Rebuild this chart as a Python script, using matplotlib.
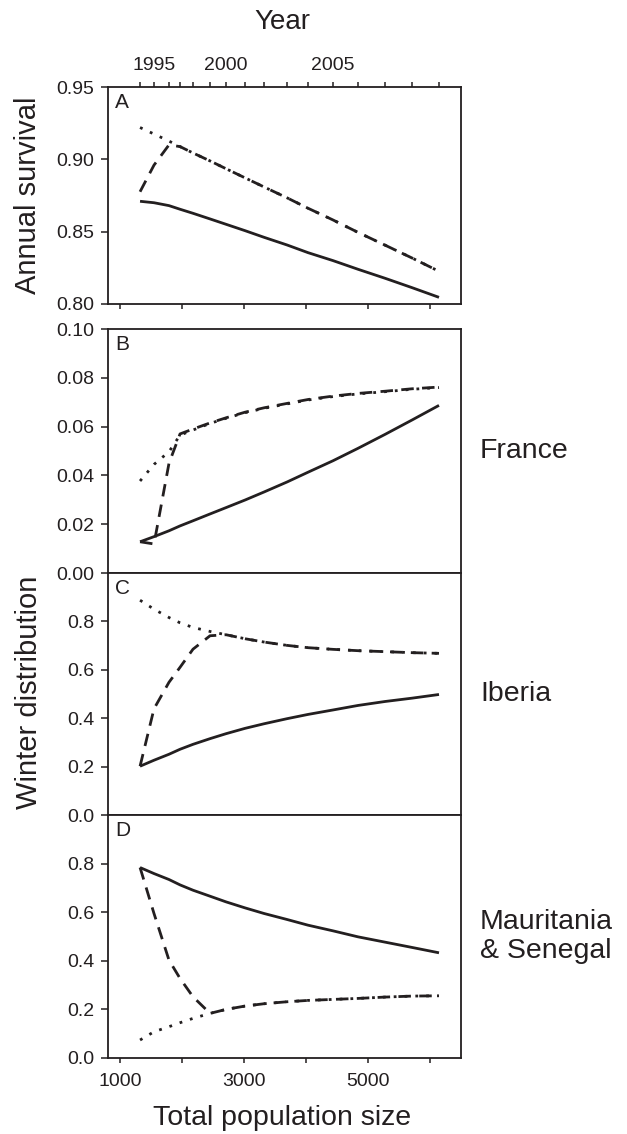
import matplotlib.pyplot as plt

plt.rcParams['font.family'] = ['Liberation Sans', 'DejaVu Sans']

# ========================
# data
# ========================
years = [1994, 1995, 1996, 1997, 1998, 1999, 2000, 2001,
         2002, 2003, 2004, 2005, 2006, 2007, 2008, 2009]
pop = [1323, 1548, 1790, 1968, 2177, 2452, 2710, 3016,
       3323, 3694, 4032, 4435, 4839, 5274, 5710, 6145]

# A - annual survival
surv_solid = [0.871, 0.870, 0.868, 0.8655, 0.8627, 0.8588, 0.8551, 0.8507,
              0.8461, 0.8408, 0.8355, 0.830, 0.824, 0.8178, 0.8113, 0.8046]
surv_dashed = [0.8776, 0.896, 0.910, 0.9088, 0.9044, 0.8989, 0.8935, 0.8872,
               0.8809, 0.8734, 0.8662, 0.8581, 0.8495, 0.8407, 0.8318, 0.8226]
surv_dotted = [0.922, 0.9175, 0.9126, 0.9088, 0.9044, 0.8989, 0.8935, 0.8872,
               0.8809, 0.8734, 0.8662, 0.8581, 0.8495, 0.8407, 0.8318, 0.8226]

# B - France
fr_solid = [0.0128, 0.0149, 0.0173, 0.0193, 0.0214, 0.0242, 0.0268, 0.0299,
            0.0332, 0.0373, 0.0413, 0.0460, 0.0511, 0.0568, 0.0627, 0.0687]
fr_dashed = [0.0128, 0.0119, 0.0450, 0.0570, 0.0590, 0.0615, 0.0636, 0.0659,
             0.0677, 0.0695, 0.0711, 0.0725, 0.0736, 0.0745, 0.0755, 0.0762]
fr_dotted = [0.0377, 0.0445, 0.0497, 0.0565, 0.0586, 0.0613, 0.0634, 0.0657,
             0.0675, 0.0693, 0.0709, 0.0723, 0.0734, 0.0743, 0.0753, 0.0760]

# C - Iberia
ib_solid = [0.2016, 0.2263, 0.251, 0.2716, 0.292, 0.3155, 0.336, 0.358,
            0.377, 0.398, 0.4156, 0.434, 0.4527, 0.469, 0.4828, 0.498]
ib_dashed = [0.2016, 0.4389, 0.5486, 0.6103, 0.6852, 0.7407, 0.7449, 0.7284,
             0.7147, 0.7009, 0.6914, 0.6845, 0.679, 0.675, 0.6708, 0.668]
ib_dotted = [0.8875, 0.8505, 0.816, 0.7942, 0.775, 0.7584, 0.7449, 0.7284,
             0.7147, 0.7009, 0.6914, 0.6845, 0.679, 0.675, 0.6708, 0.668]

# D - Mauritania & Senegal
ms_solid = [0.7838, 0.759, 0.7345, 0.7124, 0.6905, 0.6658, 0.6425, 0.6178,
            0.5947, 0.570, 0.5466, 0.5233, 0.4986, 0.4768, 0.455, 0.4329]
ms_dashed = [0.7838, 0.5946, 0.4027, 0.3274, 0.252, 0.1836, 0.200, 0.2137,
             0.2233, 0.2315, 0.237, 0.2411, 0.2452, 0.2507, 0.2548, 0.256]
ms_dotted = [0.074, 0.108, 0.1288, 0.1452, 0.163, 0.1836, 0.200, 0.2137,
             0.2233, 0.2315, 0.237, 0.2411, 0.2452, 0.2507, 0.2548, 0.256]

year_labels = [1995, 2000, 2005]
pop_ticks = [1000, 2000, 3000, 4000, 5000, 6000]
pop_labels = ['1000', '', '3000', '', '5000', '']

INK = '#231f20'
LW = 2.0
DASH = (0, (4.5, 3.0))
DOT = (0, (1, 2.9))

fig = plt.figure(figsize=(6.27, 11.34), dpi=100)
left, width = 108 / 627, 353 / 627
H = 1134


def make_ax(top_px, bot_px):
    ax = fig.add_axes([left, 1 - bot_px / H, width, (bot_px - top_px) / H])
    for s in ax.spines.values():
        s.set_linewidth(1.3)
        s.set_color(INK)
    ax.set_xlim(806, 6500)
    ax.tick_params(axis='y', direction='out', length=5, width=1.1,
                   labelsize=14, pad=5, colors=INK)
    ax.tick_params(axis='x', direction='out', length=3.5, width=1.1,
                   labelsize=14, pad=7, colors=INK)
    return ax


def draw(ax, solid, dashed, dotted, letter):
    ax.plot(pop, solid, color=INK, lw=LW, solid_capstyle='butt')
    ax.plot(pop, dashed, color=INK, lw=LW, linestyle=DASH)
    ax.plot(pop, dotted, color=INK, lw=LW, linestyle=DOT)
    ax.annotate(letter, xy=(0, 1), xycoords='axes fraction', xytext=(5, -4),
                textcoords='offset points', ha='left', va='top',
                fontsize=15, color=INK)


axA = make_ax(87, 304)
axB = make_ax(329, 573)
axC = make_ax(573, 815)
axD = make_ax(815, 1058)

draw(axA, surv_solid, surv_dashed, surv_dotted, 'A')
draw(axB, fr_solid, fr_dashed, fr_dotted, 'B')
draw(axC, ib_solid, ib_dashed, ib_dotted, 'C')
draw(axD, ms_solid, ms_dashed, ms_dotted, 'D')

axA.set_ylim(0.80, 0.95)
axA.set_yticks([0.80, 0.85, 0.90, 0.95])
axA.set_yticklabels(['0.80', '0.85', '0.90', '0.95'])
axA.set_xticks(pop_ticks)
axA.tick_params(axis='x', labelbottom=False)

axB.set_ylim(0, 0.10)
axB.set_yticks([0, 0.02, 0.04, 0.06, 0.08, 0.10])
axB.set_yticklabels(['0.00', '0.02', '0.04', '0.06', '0.08', '0.10'])

for ax in (axC, axD):
    ax.set_ylim(0, 1.0)
    ax.set_yticks([0, 0.2, 0.4, 0.6, 0.8])
    ax.set_yticklabels(['0.0', '0.2', '0.4', '0.6', '0.8'])

for ax in (axB, axC):
    ax.set_xticks([])

axD.set_xticks(pop_ticks)
axD.set_xticklabels(pop_labels)

# year axis on top of panel A
axY = axA.twiny()
axY.set_xlim(axA.get_xlim())
axY.set_xticks(pop)
axY.set_xticklabels([str(y) if y in year_labels else '' for y in years])
axY.tick_params(axis='x', direction='out', length=3.5, width=1.1,
                labelsize=14, pad=6, colors=INK)
for s in axY.spines.values():
    s.set_visible(False)

# labels
fig.text(282 / 627, 1 - 22 / H, 'Year', ha='center', va='center',
         fontsize=20, color=INK)
fig.text(282 / 627, 1 - 1118 / H, 'Total population size', ha='center',
         va='center', fontsize=20.5, color=INK)
fig.text(28 / 627, 1 - 195 / H, 'Annual survival', ha='center', va='center',
         rotation=90, fontsize=21, color=INK)
fig.text(29 / 627, 1 - 692 / H, 'Winter distribution', ha='center',
         va='center', rotation=90, fontsize=21, color=INK)

for ax, name in ((axB, 'France'), (axC, 'Iberia'),
                 (axD, 'Mauritania\n& Senegal')):
    ax.text(1.054, 0.5, name, transform=ax.transAxes, ha='left',
            va='center', fontsize=20.5, color=INK, linespacing=1.15)

fig.savefig('out.png', dpi=100)
